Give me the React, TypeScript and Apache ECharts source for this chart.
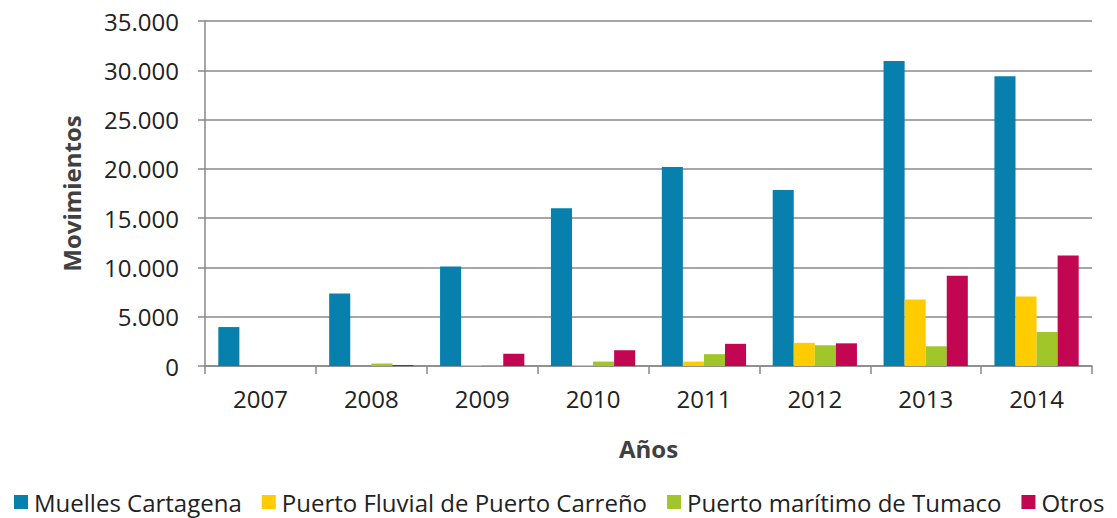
import React, { useEffect, useRef } from "react";
import * as echarts from "echarts";

const years = ["2007", "2008", "2009", "2010", "2011", "2012", "2013", "2014"];
const seriesNames = [
  "Muelles Cartagena",
  "Puerto Fluvial de Puerto Carreño",
  "Puerto marítimo de Tumaco",
  "Otros",
];
const cartagena = [3950, 7350, 10100, 16000, 20200, 17850, 30950, 29400];
const carreno = [0, 0, 100, 100, 450, 2350, 6750, 7050];
const tumaco = [0, 250, 100, 450, 1200, 2100, 2000, 3450];
const otros = [0, 100, 1250, 1600, 2250, 2300, 9150, 11200];
const colors = ["#0780AE", "#FFCC00", "#A0C62A", "#C20651"];
const yTicks = [0, 5000, 10000, 15000, 20000, 25000, 30000, 35000];

const fmt = (v: number) => String(v).replace(/\B(?=(\d{3})+(?!\d))/g, ".");

export default function App() {
  const ref = useRef<HTMLDivElement>(null);
  useEffect(() => {
    if (!ref.current) return;
    const chart = echarts.init(ref.current, null, { renderer: "svg" });
    const data = [cartagena, carreno, tumaco, otros];
    chart.setOption({
      animation: false,
      textStyle: { fontFamily: "Open Sans" },
      grid: { left: 205, right: 25, top: 21, bottom: 152, containLabel: false },
      legend: {
        top: 490,
        left: 14,
        width: 1110,
        itemWidth: 14,
        itemHeight: 14,
        itemGap: 20,
        itemStyle: { borderWidth: 0 },
        icon: "rect",
        padding: 0,
        textStyle: { fontSize: 24, color: "#222", fontFamily: "Open Sans", padding: [0, 0, 0, 1] },
        data: seriesNames,
      },
      xAxis: {
        type: "category",
        data: years,
        name: "Años",
        nameLocation: "middle",
        nameGap: 70,
        nameTextStyle: { fontSize: 24, fontWeight: "bold", color: "#404040" },
        axisLine: { lineStyle: { color: "#888", width: 1.5 } },
        axisTick: { show: true, length: 8, lineStyle: { color: "#888", width: 1.5 } },
        axisLabel: { fontSize: 24, color: "#222", margin: 20 },
      },
      yAxis: {
        type: "value",
        min: 0,
        max: yTicks[yTicks.length - 1],
        interval: yTicks[1] - yTicks[0],
        name: "Movimientos",
        nameLocation: "middle",
        nameGap: 122,
        nameTextStyle: { fontSize: 24, fontWeight: "bold", color: "#404040" },
        axisLine: { show: true, lineStyle: { color: "#888", width: 1.5 } },
        axisTick: { show: true, length: 7, lineStyle: { color: "#888", width: 1.5 } },
        axisLabel: { fontSize: 24, color: "#222", margin: 26, formatter: (v: number) => fmt(v) },
        splitLine: { lineStyle: { color: "#888", width: 1.5 } },
      },
      series: seriesNames.map((name, i) => ({
        name,
        type: "bar",
        data: data[i],
        barGap: "0%",
        barCategoryGap: "24%",
        itemStyle: { color: colors[i] },
      })),
    });
    return () => chart.dispose();
  }, []);
  return <div ref={ref} style={{ width: 1117, height: 518, position: "absolute", left: 0, top: 0 }} />;
}
